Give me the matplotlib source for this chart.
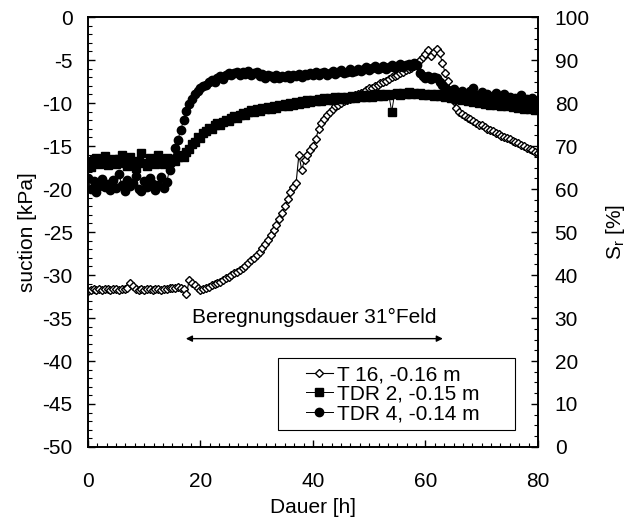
import numpy as np
import matplotlib.pyplot as plt
from matplotlib.ticker import MultipleLocator
from matplotlib.patches import Rectangle

plt.rcParams['font.family'] = ['Liberation Sans', 'DejaVu Sans']
plt.rcParams['font.size'] = 15
plt.rcParams['axes.unicode_minus'] = False

# time grid [h], one reading every half hour
hours = np.arange(0, 80.5, 0.5)

# T 16 tensiometer, suction [kPa]
t16_suction = [
    -31.9, -31.7, -31.6, -31.7, -31.6, -31.7, -31.6, -31.6, -31.7, -31.6,
    -31.6, -31.7, -31.6, -31.6, -31.5, -30.9, -31.3, -31.6, -31.7, -31.6,
    -31.7, -31.6, -31.6, -31.7, -31.6, -31.6, -31.7, -31.6, -31.6, -31.5,
    -31.5, -31.5, -31.4, -31.5, -31.6, -32.2, -30.6, -30.9, -31.2, -31.5,
    -31.7, -31.6, -31.5, -31.4, -31.2, -31.1, -30.9, -30.8, -30.6, -30.4,
    -30.2, -30.0, -29.8, -29.6, -29.4, -29.2, -28.9, -28.6, -28.3, -28.0,
    -27.7, -27.3, -26.9, -26.4, -25.9, -25.4, -24.8, -24.2, -23.5, -22.8,
    -22.0, -21.2, -20.4, -19.8, -19.3, -16.0, -17.8, -16.6, -16.0, -15.5,
    -15.0, -14.2, -13.0, -12.3, -11.9, -11.4, -11.0, -10.7, -10.4, -10.2,
    -10.0, -9.8, -9.7, -9.5, -9.3, -9.1, -9.0, -8.8, -8.7, -8.5,
    -8.3, -8.2, -8.0, -7.9, -7.7, -7.5, -7.4, -7.2, -7.0, -6.9,
    -6.7, -6.5, -6.4, -6.2, -6.0, -5.9, -5.7, -5.4, -5.0, -4.6,
    -4.3, -3.8, -4.5, -4.1, -3.7, -4.2, -5.3, -6.5, -7.4, -8.6,
    -9.8, -10.6, -11.0, -11.3, -11.5, -11.7, -11.9, -12.1, -12.3, -12.5,
    -12.6, -12.8, -13.0, -13.1, -13.3, -13.5, -13.6, -13.8, -13.9, -14.1,
    -14.2, -14.4, -14.5, -14.7, -14.9, -15.0, -15.2, -15.4, -15.5, -15.7,
    -15.8,
]

# TDR 2, degree of saturation [%]
tdr2_sr = [
    66.5, 65.2, 66.8, 67.3, 65.9, 66.4, 67.6, 65.5, 66.2, 67.0,
    65.8, 66.9, 68.0, 66.1, 65.4, 67.4, 66.6, 64.8, 66.3, 68.3,
    66.0, 65.3, 67.2, 66.5, 65.7, 67.8, 66.4, 65.9, 67.1, 66.2,
    67.0, 66.6, 67.5, 68.0, 67.4, 68.6, 69.3, 70.5, 71.0, 72.1,
    71.8, 73.0, 73.6, 74.2, 73.9, 74.8, 75.3, 74.9, 75.6, 76.1,
    75.7, 76.4, 76.9, 76.5, 77.2, 77.6, 77.1, 77.9, 78.3, 77.8,
    78.6, 78.2, 78.9, 78.5, 79.1, 78.7, 79.3, 78.9, 79.6, 79.2,
    79.8, 79.4, 80.0, 79.6, 80.2, 79.8, 80.4, 80.0, 80.6, 80.2,
    80.8, 80.4, 80.9, 80.5, 81.1, 80.7, 81.2, 80.8, 81.3, 80.9,
    81.4, 81.0, 81.5, 81.1, 81.6, 81.2, 81.7, 81.3, 81.8, 81.4,
    81.9, 81.5, 82.0, 81.6, 82.1, 81.7, 82.2, 81.8, 78.0, 82.0,
    82.3, 81.9, 82.4, 82.0, 82.5, 82.1, 82.4, 82.0, 82.3, 81.9,
    82.2, 81.8, 82.1, 81.7, 82.0, 81.6, 81.9, 81.4, 81.7, 81.2,
    81.5, 80.9, 81.3, 80.6, 81.0, 80.4, 80.9, 80.2, 80.7, 80.0,
    80.6, 79.8, 80.4, 79.6, 80.3, 79.5, 80.1, 79.3, 80.0, 79.2,
    79.9, 79.0, 79.7, 78.9, 79.6, 78.7, 79.4, 78.5, 79.2, 78.3,
    78.8,
]

# TDR 4, degree of saturation [%]
tdr4_sr = [
    62.5, 60.0, 61.8, 59.3, 60.8, 62.4, 60.5, 61.2, 59.8, 62.0,
    60.3, 63.5, 61.0, 59.6, 62.2, 60.7, 61.5, 63.0, 60.1, 59.5,
    61.9, 60.4, 62.6, 61.1, 59.7, 60.9, 62.8, 60.2, 61.6, 64.5,
    67.0, 69.5, 71.5, 73.8, 76.0, 78.2, 79.8, 80.9, 82.1, 82.8,
    83.5, 84.0, 84.2, 84.9, 85.3, 85.0, 85.8, 86.2, 85.6, 86.5,
    87.0, 86.4, 86.9, 87.3, 86.6, 87.1, 86.8, 87.4, 86.5, 86.9,
    87.2, 86.3, 86.7, 85.9, 86.6, 86.2, 85.7, 86.4, 85.8, 86.3,
    86.0, 86.6, 85.9, 86.5, 86.2, 86.8, 86.1, 86.7, 86.4, 86.9,
    86.5, 87.1, 86.4, 86.9, 87.3, 86.6, 87.0, 87.4, 86.8, 87.2,
    87.6, 86.9, 87.3, 87.8, 87.1, 87.5, 88.0, 87.4, 87.8, 88.3,
    87.6, 88.1, 88.5, 87.9, 88.2, 88.6, 88.0, 88.4, 88.8, 88.2,
    88.6, 89.0, 88.4, 88.8, 89.1, 88.7, 89.2, 88.9, 87.0, 86.2,
    85.8, 86.3, 85.6, 86.0, 85.7, 85.0, 84.2, 83.5, 83.0, 82.6,
    83.2, 82.4, 81.8, 82.9, 82.1, 81.5, 82.7, 83.4, 81.9, 81.2,
    82.5, 81.7, 82.2, 81.0, 81.6, 82.3, 80.8, 81.4, 82.0, 80.6,
    81.3, 80.2, 81.1, 80.5, 81.8, 80.0, 80.9, 79.6, 81.2, 80.3,
    80.7,
]

labels = ['T 16, -0.16 m', 'TDR 2, -0.15 m', 'TDR 4, -0.14 m']
rain_start, rain_end = 17.4, 63.1

fig = plt.figure(figsize=(6.32, 5.17), dpi=100)
ax = fig.add_axes([0.1392, 0.1354, 0.712, 0.8317])
ax2 = ax.twinx()

l1, = ax.plot(hours, t16_suction, color='black', lw=0.8, marker='D', ms=4.5,
              mfc='white', mec='black', mew=1.0)
l2, = ax2.plot(hours, tdr2_sr, color='black', lw=0.7, marker='s', ms=5.5)
l3, = ax2.plot(hours, tdr4_sr, color='black', lw=0.7, marker='o', ms=6)

ax.set_xlim(0, 80)
ax.set_ylim(-50, 0)
ax2.set_ylim(0, 100)

ax.xaxis.set_major_locator(MultipleLocator(20))
ax.xaxis.set_minor_locator(MultipleLocator(20 / 12))
ax.yaxis.set_major_locator(MultipleLocator(5))
ax.yaxis.set_minor_locator(MultipleLocator(1))
ax2.yaxis.set_major_locator(MultipleLocator(10))
ax2.yaxis.set_minor_locator(MultipleLocator(2.5))

ax.tick_params(axis='x', which='both', direction='in', top=False, pad=18)
ax.tick_params(axis='y', which='both', direction='in', right=False, pad=11)
ax2.tick_params(axis='y', which='both', direction='in', pad=12)
for a in (ax, ax2):
    a.tick_params(which='major', length=5, width=1)
    a.tick_params(which='minor', length=3, width=0.8)
    for s in a.spines.values():
        s.set_linewidth(1.2)

ax.set_xlabel('Dauer [h]', labelpad=5)
ax.set_ylabel('suction [kPa]', labelpad=4)
ax2.set_ylabel('S$_\\mathregular{r}$ [%]', labelpad=10)

ax.annotate('', xy=(rain_start, -37.4), xytext=(rain_end, -37.4),
            arrowprops=dict(arrowstyle='<|-|>', color='black', lw=1,
                            mutation_scale=9, shrinkA=0, shrinkB=0))
ax.text((rain_start + rain_end) / 2, -34.9, 'Beregnungsdauer 31°Feld',
        ha='center', va='center')

# legend box drawn by hand, legend itself without frame
ax2.add_patch(Rectangle((0.422, 0.04), 0.527, 0.168, transform=ax2.transAxes,
                        fill=False, edgecolor='black', lw=0.8, zorder=5))
ax2.legend([l1, l2, l3], labels, loc='upper left', bbox_to_anchor=(0.484, 0.19),
           frameon=False, borderpad=0, borderaxespad=0, handlelength=1.3,
           handletextpad=0.2, labelspacing=0.02)

fig.savefig('out.png', dpi=100)
